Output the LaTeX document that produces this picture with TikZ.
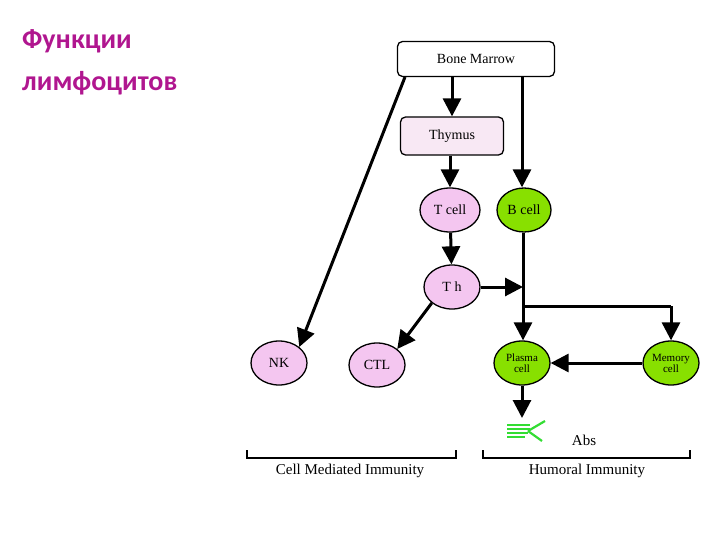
\documentclass[tikz,border=0pt]{standalone}
\usepackage{fontspec}
\setmainfont{Liberation Serif}
\newfontfamily\titlefont{Carlito}
\usetikzlibrary{arrows.meta,shapes.geometric}
\definecolor{mag}{HTML}{B0168F}
\definecolor{pinkc}{HTML}{F4C6F0}
\definecolor{thy}{HTML}{F8E8F4}
\definecolor{grn}{HTML}{88E000}
\definecolor{abg}{HTML}{33DD33}
\begin{document}
\begin{tikzpicture}[x=1pt,y=-1pt,
  cell/.style={ellipse,draw,line width=1.3pt,minimum width=56pt,minimum height=44pt,inner sep=0pt,font=\fontsize{14}{14}\selectfont,align=center},
  tc/.style={cell,fill=pinkc},
  bc/.style={cell,fill=grn,font=\fontsize{11}{11}\selectfont},
  box/.style={draw,line width=1.3pt,rounded corners=5pt,font=\fontsize{14}{14}\selectfont,inner sep=0pt},
  ar/.style={line width=3pt,-{Triangle[length=18pt,width=18pt]}},
  ln/.style={line width=3pt},
  br/.style={line width=1.5pt}]
\useasboundingbox (0,0) rectangle (720,540);
\node[anchor=north west,font=\titlefont\bfseries\fontsize{28}{42}\selectfont,text=mag,align=left,inner sep=0pt] (title) at (22,29) {Функции\\лимфоцитов};
\node[box,minimum width=157pt,minimum height=35pt] (bm) at (476,59) {Bone Marrow};
\node[box,fill=thy,minimum width=103pt,minimum height=38pt] (thy) at (452,136) {Thymus};
\node[tc,minimum width=60pt] (t) at (450,210) {T cell};
\node[bc,minimum width=54pt,font=\fontsize{14}{14}\selectfont] (b) at (524,210) {B cell};
\node[tc] (th) at (452,287) {T h};
\node[tc] (nk) at (279,363) {NK};
\node[tc] (ctl) at (377,365) {CTL};
\node[bc] (pl) at (522,363) {Plasma\\cell};
\node[bc] (mem) at (671,363) {Memory\\cell};
\coordinate (bmL) at (405,77);
\coordinate (bmR) at (522,77);
\coordinate (jn) at (523,287);
\coordinate (br1) at (523,306);
\coordinate (br2) at (671,306);
\coordinate (abs) at (522,418);
\draw[ar] (bm.south -| thy) -- (thy.north);
\draw[ar] (bmR) -- (b.north -| bmR);
\draw[ar] (thy.south -| t) -- (t.north);
\draw[ar] (t) -- (th);
\draw[ar] (th.east) -- (jn);
\draw[ar] (b.south -| jn) -- (pl.north -| jn);
\draw[ln] (br1) -- (br2);
\draw[ar] (br2) -- (mem.north);
\draw[ar] (mem.west) -- (pl.east);
\draw[ar] (pl.south) -- (abs);
\draw[ar] (th.south west) -- (ctl.north east);
\draw[ar] (bmL) -- (nk.north east);
% antibody
\begin{scope}[abg,line width=2.2pt]
\draw (507,425) -- (530,425) (507,429) -- (530,429) (507,433) -- (528,433) (507,437) -- (525,437);
\draw (528,431) -- (545,421) (528,431) -- (542,441);
\end{scope}
\node[font=\fontsize{15}{15}\selectfont] (abt) at (584,440) {Abs};
\draw[br] (247,450) -- (247,458) -- (456,458) -- (456,450);
\draw[br] (483,450) -- (483,458) -- (690,458) -- (690,450);
\node[font=\fontsize{15}{15}\selectfont] (cmi) at (350,471) {Cell Mediated Immunity};
\node[font=\fontsize{15}{15}\selectfont] (hi) at (587,471) {Humoral Immunity};
\end{tikzpicture}
\end{document}
